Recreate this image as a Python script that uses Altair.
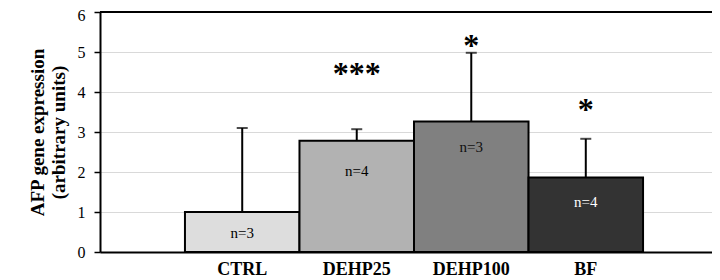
import altair as alt
import pandas as pd

groups = ["CTRL", "DEHP25", "DEHP100", "BF"]
means = [1.0, 2.78, 3.26, 1.86]
upper = [3.10, 3.07, 4.98, 2.83]
n_labels = ["n=3", "n=4", "n=3", "n=4"]
n_y = [0.48, 2.03, 2.62, 1.26]
stars = ["", "***", "*", "*"]
star_y = [0.0, 4.57, 5.28, 3.67]
bar_colors = ["#dddddd", "#b2b2b2", "#808080", "#333333"]
n_colors = ["#000000", "#000000", "#111111", "#ffffff"]
y_ticks = [0, 1, 2, 3, 4, 5, 6]

df = pd.DataFrame({
    "group": groups, "mean": means, "upper": upper,
    "nlab": n_labels, "ny": n_y, "star": stars, "sy": star_y,
    "ncol": n_colors,
})

FONT = "Liberation Serif"

x_axis = alt.Axis(title=None, labelAngle=0, labelFont=FONT, labelFontSize=18,
                  labelFontWeight="bold", labelColor="#000", labelPadding=8,
                  ticks=False, domainColor="#000", domainWidth=2, grid=False,
                  labelOverlap=False)
x_scale = alt.Scale(paddingInner=0, paddingOuter=0.672, align=0.552)
y_scale = alt.Scale(domain=[0, 6], nice=False, zero=True)
y_axis = alt.Axis(values=y_ticks, title=["AFP gene expression", "(arbitrary units)"],
                  titleFont=FONT, titleFontSize=19, titleFontWeight="bold",
                  titleColor="#000", titleLineHeight=21, titlePadding=9,
                  labelFont=FONT, labelFontSize=16, labelColor="#000", labelPadding=9,
                  labelOverlap=False, labelFlush=False,
                  labelOffset={"condition": {"test": "datum.value == 6", "value": 3}, "value": 0},
                  tickSize=6, tickColor="#000", tickWidth=1.5,
                  domainColor="#000", domainWidth=2,
                  grid=True, gridColor="#d9d9d9", gridWidth=1)


def X():
    return alt.X("group:N", sort=groups, scale=x_scale, axis=x_axis)


def Y(field):
    return alt.Y(field, scale=y_scale, axis=y_axis)


base = alt.Chart(df)

bars = base.mark_bar(stroke="#000", strokeWidth=2).encode(
    x=X(), y=Y("mean:Q"),
    color=alt.Color("group:N", scale=alt.Scale(domain=groups, range=bar_colors), legend=None),
)

err = base.mark_rule(color="#000", strokeWidth=2).encode(
    x=X(), y=Y("mean:Q"), y2="upper:Q")
cap = base.mark_tick(color="#000", thickness=2, size=11).encode(
    x=X(), y=Y("upper:Q"))

top = alt.Chart(pd.DataFrame({"v": [6]})).mark_rule(color="#000", strokeWidth=2).encode(
    y=Y("v:Q"))

nl = base.mark_text(font=FONT, fontSize=15, baseline="middle").encode(
    x=X(), y=Y("ny:Q"), text="nlab:N",
    color=alt.Color("ncol:N", scale=None))

st = base.transform_filter(alt.datum.star != "").mark_text(
    font=FONT, fontSize=32, fontWeight="bold", baseline="alphabetic", dy=15, color="#000").encode(
    x=X(), y=Y("sy:Q"), text="star:N")

chart = alt.layer(bars, err, cap, top, nl, st).properties(
    width=612, height=240,
    autosize=alt.AutoSizeParams(type="none"),
    padding={"left": 92, "top": 4, "right": 0, "bottom": 28},
).configure_view(stroke=None).configure_axis(labelFont=FONT, titleFont=FONT).configure_text(font=FONT)

chart.save("out.html", embed_options={"renderer": "svg", "actions": False})
